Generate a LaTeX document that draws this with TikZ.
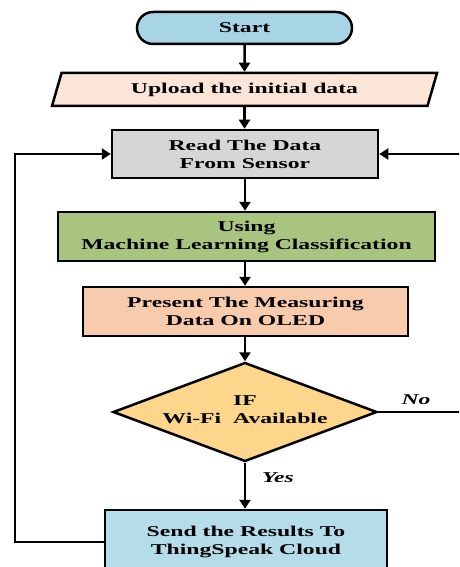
\documentclass[tikz,border=0pt]{standalone}
\usepackage{fontspec}
\newfontfamily\ff{Liberation Serif}[FakeStretch=1.58]
\usetikzlibrary{shapes.geometric,arrows.meta}
\definecolor{cstart}{HTML}{A8D5E6}
\definecolor{cup}{HTML}{FBE5D6}
\definecolor{cread}{HTML}{D6D6D6}
\definecolor{cml}{HTML}{A9C47F}
\definecolor{cpres}{HTML}{F8CBAD}
\definecolor{cdia}{HTML}{FCD68A}
\definecolor{csend}{HTML}{B4DCE9}
\begin{document}
\begin{tikzpicture}[x=1pt,y=-1pt,
  txt/.style={align=center, inner sep=0pt, font=\ff\bfseries\fontsize{15}{18}\selectfont},
  box/.style={txt, draw=black, line width=2.5pt},
  lab/.style={inner sep=0pt, font=\ff\bfseries\itshape\fontsize{15}{18}\selectfont},
  arr/.style={line width=2.5pt, -{Triangle[length=9pt,width=11pt]}},
]
\useasboundingbox (0,0) rectangle (459,567);
\clip (0,0) rectangle (459,567);
\node[box, fill=cstart, rounded corners=16pt, minimum width=215pt, minimum height=32pt] (start) at (244.5,28) {Start};
\node[box, fill=cup, trapezium, trapezium left angle=55, trapezium right angle=125, trapezium stretches body, minimum width=385pt, minimum height=33pt] (up) at (244.5,89.5) {Upload the initial data};
\node[box, fill=cread, minimum width=266pt, minimum height=48pt] (read) at (245,154) {Read The Data\\From Sensor};
\node[box, fill=cml, minimum width=377pt, minimum height=49pt] (ml) at (246.5,236.5) {Using\\Machine Learning Classification};
\node[box, fill=cpres, minimum width=325pt, minimum height=49pt] (pres) at (245.5,311.5) {Present The Measuring\\Data On OLED};
\node[draw=black, line width=2.5pt, fill=cdia, diamond, inner sep=0pt, minimum width=264pt, minimum height=99pt] (dia) at (245,412) {};
\node[txt] (diatext) at (245,410) {IF\\Wi-Fi\ \ Available};
\node[box, fill=csend, minimum width=282pt, minimum height=64pt] (send) at (246,542) {Send the Results To\\ThingSpeak Cloud};
\node[lab] (no) at (416,400) {No};
\node[lab] (yes) at (278,478) {Yes};
\coordinate (lc) at (15,542);
\coordinate (rc) at (470,412);
\draw[arr] (start.south) -- (up.north);
\draw[arr] (up.south) -- (up.south |- read.north);
\draw[arr] (read.south) -- (read.south |- ml.north);
\draw[arr] (read.south |- ml.south) -- (read.south |- pres.north);
\draw[arr] (dia.north |- pres.south) -- (dia.north);
\draw[arr] (dia.south) -- (dia.south |- send.north);
\draw[arr] (send.west) -- (lc) |- (read.west);
\draw[arr, line width=2pt] (dia.east) -- (rc) |- (read.east);
\end{tikzpicture}
\end{document}
